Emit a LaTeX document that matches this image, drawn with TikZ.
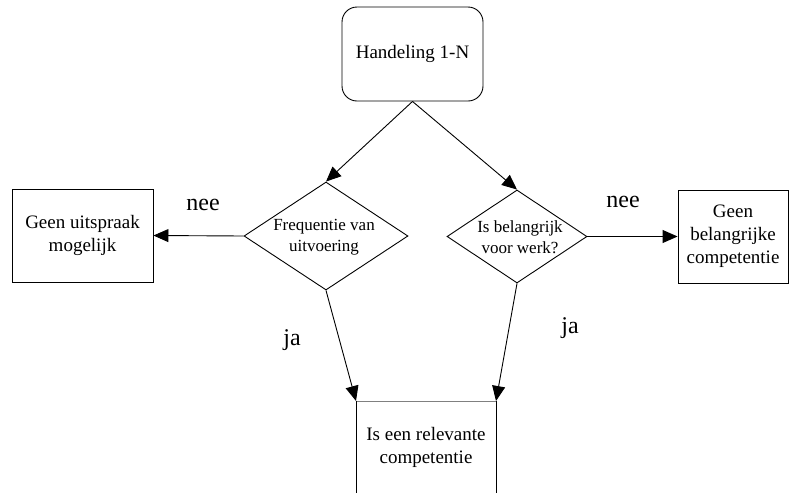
\documentclass[tikz,border=0pt]{standalone}
\usepackage{fontspec}
\setmainfont{Liberation Serif}
\usetikzlibrary{shapes.geometric,arrows.meta}
\begin{document}
\begin{tikzpicture}[x=1pt,y=-1pt,
  line width=0.9pt,
  boxtext/.style={font=\fontsize{19}{23}\selectfont, align=center},
  dtext/.style={font=\fontsize{17}{21}\selectfont, align=center},
  lbl/.style={font=\fontsize{24}{28}\selectfont},
  rbox/.style={draw, minimum width=#1, minimum height=93pt, inner sep=0pt, boxtext},
  dia/.style={draw, diamond, inner sep=0pt},
  arr/.style={-{Triangle[length=15pt,width=13pt]}}
]
\useasboundingbox (0,0) rectangle (808,493);
\node[draw, rounded corners=15pt, minimum width=141pt, minimum height=94pt, boxtext] (top) at (412.5,54) {Handeling 1-N};
\node[dia, minimum width=164pt, minimum height=108pt] (d1) at (326,236) {};
\node[dtext] (d1t) at (324,237) {Frequentie van\\uitvoering};
\node[dia, minimum width=140pt, minimum height=93pt] (d2) at (517,236.5) {};
\node[dtext] (d2t) at (520,237) {Is belangrijk\\voor werk?};
\node[rbox=141pt] (b1) at (82.5,235.5) {Geen uitspraak\\mogelijk};
\node[rbox=110pt] (b2) at (733,236.5) {Geen\\belangrijke\\competentie};
\node[boxtext] (bot) at (426,447) {Is een relevante\\competentie};
\coordinate (botL) at (356,401);
\coordinate (botR) at (496,401);
\coordinate (botLL) at (356,493);
\coordinate (botRR) at (496,493);
\draw[gray] (botL) -- (botR);
\draw (botL) -- (botLL);
\draw (botR) -- (botRR);
\draw[arr] (top.south) -- (d1.north);
\draw[arr] (top.south) -- (d2.north);
\draw[arr] (d1.west) -- (b1.east);
\draw[arr] (d2.east) -- (b2.west);
\draw[arr] (d1.south) -- (botL);
\draw[arr] (d2.south) -- (botR);
\node[lbl] (n1) at (203,205) {nee};
\node[lbl] (n2) at (623,202) {nee};
\node[lbl] (j1) at (292,340) {ja};
\node[lbl] (j2) at (570,328) {ja};
\end{tikzpicture}
\end{document}
